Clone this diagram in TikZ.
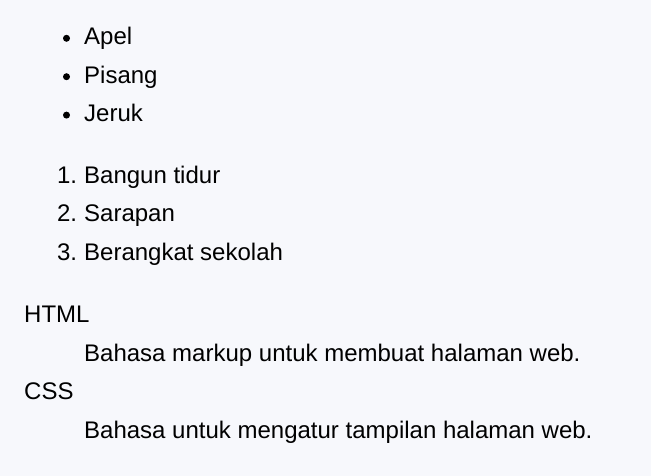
\documentclass[tikz,border=0pt]{standalone}
\usepackage{fontspec}
\setmainfont{Liberation Sans}
\usetikzlibrary{positioning}
\definecolor{pagebg}{HTML}{F7F8FC}

\begin{document}
\begin{tikzpicture}[x=1pt,y=-1pt,
  item/.style={anchor=base west,inner sep=0pt,font=\fontsize{24}{28}\selectfont},
  num/.style={anchor=base east,inner sep=0pt,font=\fontsize{24}{28}\selectfont},
  dot/.style={circle,fill=black,minimum size=7pt,inner sep=0pt}]

  \fill[pagebg] (0,0) rectangle (651,476);
  \useasboundingbox (0,0) rectangle (651,476);

  % unordered list
  \node[dot] (b1) at (66.5,38.3) {};
  \node[item] (apel) at (84,45) {Apel};
  \node[dot] (b2) at (66.5,76.7) {};
  \node[item] (pisang) at (84,83.4) {Pisang};
  \node[dot] (b3) at (66.5,115.1) {};
  \node[item] (jeruk) at (84,121.8) {Jeruk};

  % ordered list
  \node[num] (n1) at (77.3,183.3) {1.};
  \node[item] (bangun) at (84,183.3) {Bangun tidur};
  \node[num] (n2) at (77.3,221.7) {2.};
  \node[item] (sarapan) at (84,221.7) {Sarapan};
  \node[num] (n3) at (77.3,260.1) {3.};
  \node[item] (berangkat) at (84,260.1) {Berangkat sekolah};

  % description list
  \node[item] (html) at (24,322.8) {HTML};
  \node[item] (htmldef) at (84,361.2) {Bahasa markup untuk membuat halaman web.};
  \node[item] (css) at (24,399.6) {CSS};
  \node[item] (cssdef) at (84,438) {Bahasa untuk mengatur tampilan halaman web.};
\end{tikzpicture}
\end{document}
